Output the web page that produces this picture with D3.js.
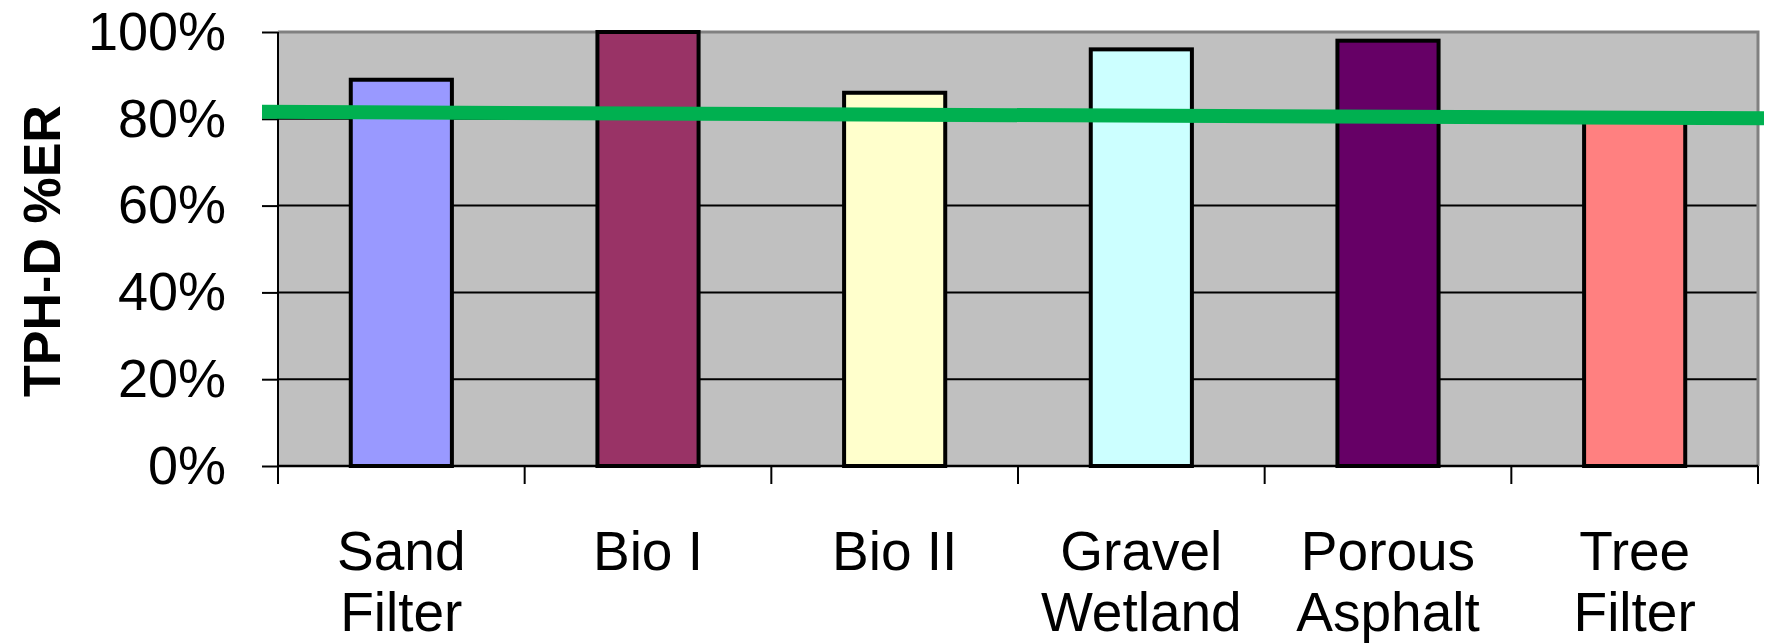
<!DOCTYPE html>
<html>
<head>
<meta charset="utf-8">
<script src="https://cdn.jsdelivr.net/npm/d3@7"></script>
<style>
body { margin: 0; background: #fff; }
svg text { font-family: "Liberation Sans", Arial, sans-serif; fill: #000; }
</style>
</head>
<body>
<svg id="chart" width="1770" height="644"></svg>
<script>
// data
const categories = ["Sand Filter", "Bio I", "Bio II", "Gravel Wetland", "Porous Asphalt", "Tree Filter"];
const labelLines = [["Sand", "Filter"], ["Bio I"], ["Bio II"], ["Gravel", "Wetland"], ["Porous", "Asphalt"], ["Tree", "Filter"]];
const values = [0.89, 1.00, 0.86, 0.96, 0.98, 0.80];
const barColors = ["#9999FF", "#993366", "#FFFFCC", "#CCFFFF", "#660066", "#FF8080"];
const yTicks = [0, 0.2, 0.4, 0.6, 0.8, 1.0];
const targetLine = [0.816, 0.801]; // hand-drawn green line, start and end
const yTitle = "TPH-D %ER";

const width = 1770, height = 644;
const margin = {top: 32, right: 12, bottom: 178, left: 278};

const svg = d3.select("#chart");

var x = d3.scaleBand()
	.domain(categories)
	.range([margin.left, width - margin.right])
	.paddingInner(0.59)
	.paddingOuter(0.295);

var y = d3.scaleLinear()
	.domain([0, 1])
	.range([height - margin.bottom, margin.top]);

const x0 = x.range()[0], x1 = x.range()[1];

// plot background
svg.append("rect")
	.attr("x", x0)
	.attr("y", y(1))
	.attr("width", x1 - x0)
	.attr("height", y(0) - y(1))
	.attr("fill", "#C0C0C0");

// gridlines
svg.append("g")
	.selectAll("line")
	.data(yTicks.filter(d => d > 0 && d < 1))
	.join("line")
	.attr("x1", x0)
	.attr("x2", x1)
	.attr("y1", d => y(d))
	.attr("y2", d => y(d))
	.attr("stroke", "#000")
	.attr("stroke-width", 2);

// top & right border
svg.append("path")
	.attr("d", `M${x0},${y(1)}H${x1}V${y(0)}`)
	.attr("fill", "none")
	.attr("stroke", "#808080")
	.attr("stroke-width", 3);

// bars
svg.append("g")
	.selectAll("rect")
	.data(values)
	.join("rect")
	.attr("x", (d, i) => x(categories[i]))
	.attr("y", d => y(d))
	.attr("width", x.bandwidth())
	.attr("height", d => y(0) - y(d))
	.attr("fill", (d, i) => barColors[i])
	.attr("stroke", "#000")
	.attr("stroke-width", 4);

// y axis
var yAxis = g => g
	.attr("transform", `translate(${x0},0)`)
	.call(d3.axisLeft(y).tickValues(yTicks).tickSize(16).tickPadding(36).tickFormat(d3.format(".0%")))
	.call(g => g.select(".domain").remove())
	.call(g => g.selectAll(".tick line").attr("stroke", "#000").attr("stroke-width", 2))
	.call(g => g.selectAll(".tick text").attr("font-size", 54).attr("font-family", "Liberation Sans, Arial, sans-serif").attr("fill", "#000"));
svg.append("g").call(yAxis);

svg.append("line")
	.attr("x1", x0).attr("x2", x0)
	.attr("y1", y(1)).attr("y2", y(0))
	.attr("stroke", "#000").attr("stroke-width", 2);

// x axis with ticks between categories
svg.append("line")
	.attr("x1", x0).attr("x2", x1)
	.attr("y1", y(0)).attr("y2", y(0))
	.attr("stroke", "#000").attr("stroke-width", 2.5);

svg.append("g")
	.selectAll("line")
	.data(d3.range(categories.length + 1))
	.join("line")
	.attr("x1", i => x0 + i * x.step())
	.attr("x2", i => x0 + i * x.step())
	.attr("y1", y(0))
	.attr("y2", y(0) + 18)
	.attr("stroke", "#000")
	.attr("stroke-width", 2);

// category labels
svg.append("g")
	.selectAll("text")
	.data(categories)
	.join("text")
	.attr("text-anchor", "middle")
	.attr("font-size", 55)
	.each(function(c, i) {
		d3.select(this).selectAll("tspan")
			.data(labelLines[i])
			.join("tspan")
			.attr("x", x(c) + x.bandwidth() / 2)
			.attr("y", (d, j) => y(0) + 104 + j * 61)
			.text(d => d);
	});

// y title
svg.append("text")
	.attr("transform", `translate(60,${(y(0) + y(1)) / 2 + 2}) rotate(-90)`)
	.attr("text-anchor", "middle")
	.attr("font-size", 52)
	.attr("font-weight", "bold")
	.text(yTitle);

// green target line
svg.append("line")
	.attr("x1", x0 - 16)
	.attr("x2", x1 + 6)
	.attr("y1", y(targetLine[0]))
	.attr("y2", y(targetLine[1]))
	.attr("stroke", "#00B050")
	.attr("stroke-width", 14);
</script>
</body>
</html>
